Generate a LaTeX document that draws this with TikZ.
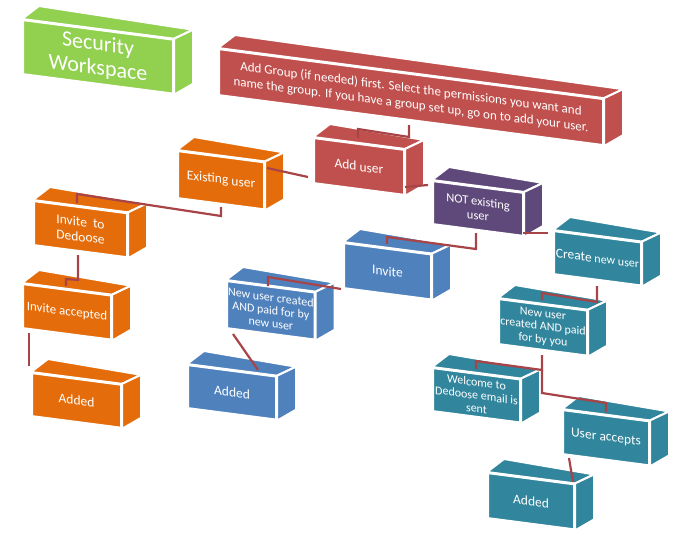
\documentclass[tikz,border=0pt]{standalone}
\usepackage{fontspec}
\setmainfont{Carlito}
\usetikzlibrary{calc}
\definecolor{cgreen}{HTML}{92D050}
\definecolor{cred}{HTML}{C0504D}
\definecolor{corange}{HTML}{E46C0A}
\definecolor{cpurple}{HTML}{5F497A}
\definecolor{cblue}{HTML}{4F81BD}
\definecolor{cteal}{HTML}{31859C}
\definecolor{connc}{HTML}{A84448}
\tikzset{
  face/.style={draw=white, line width=2pt, line join=miter},
  conn/.style={draw=connc, line width=2.2pt},
  boxtext/.style={text=white, align=center, inner sep=1pt},
}
\newcommand\cubebox[8]{%
  \begin{scope}[shift={(#2,-#3)}, yslant=-0.13]
    \node[face, fill=#6, boxtext, font=#7, minimum width=#4pt, minimum height=#5pt,
          anchor=north west, transform shape] (#1) at (0,0) {#8};
  \end{scope}
  \path[face, fill=#6] (#1.north west) -- (#1.north east) -- ++(19,9)
        -- ($(#1.north west)+(17,13)$) -- cycle;
  \path[face, fill=#6] (#1.north east) -- ++(19,9) -- ($(#1.south east)+(19,11)$)
        -- (#1.south east) -- cycle;
}
\newcommand\fa{\fontsize{13.5}{15}\selectfont}
\newcommand\fb{\fontsize{12}{13}\selectfont}
\begin{document}
\begin{tikzpicture}[x=1pt,y=1pt]
\useasboundingbox (0,0) rectangle (698,-535);
% boxes
\cubebox{sec}{22}{19}{150}{54}{cgreen}{\fontsize{22}{24}\selectfont}{Security\\Workspace}
\cubebox{grp}{218}{48}{384}{46}{cred}{\fontsize{13}{16}\selectfont}{Add Group (if needed) first. Select the permissions you want and\\name the group. If you have a group set up, go on to add your user.}
\cubebox{addu}{313}{137}{90}{45}{cred}{\fa}{Add user}
\cubebox{exist}{177}{150}{86}{47}{corange}{\fa}{Existing user}
\cubebox{notex}{432}{180}{90}{43}{cpurple}{\fontsize{12.5}{14}\selectfont}{NOT existing\\user}
\cubebox{invd}{33}{200}{93}{44}{corange}{\fa}{Invite\ \ to\\Dedoose}
\cubebox{inva}{22}{283}{88}{44}{corange}{\fontsize{13}{15}\selectfont}{Invite accepted}
\cubebox{addo}{31}{372}{89}{43}{corange}{\fa}{Added}
\cubebox{invite}{343}{242}{87}{45}{cblue}{\fa}{Invite}
\cubebox{create}{553}{230}{87}{43}{cteal}{\fb}{{\fontsize{13.5}{15}\selectfont Create} new user}
\cubebox{nucb}{226}{280}{86}{47}{cblue}{\fb}{New user created\\AND paid for by\\new user}
\cubebox{addb}{187}{364}{88}{43}{cblue}{\fa}{Added}
\cubebox{nucy}{498}{298}{88}{45}{cteal}{\fb}{New user\\created AND paid\\for by you}
\cubebox{welc}{432}{367}{87}{43}{cteal}{\fb}{Welcome to\\Dedoose email is\\sent}
\cubebox{uacc}{562}{409}{86}{44}{cteal}{\fa}{User accepts}
\cubebox{addt}{487}{472}{86}{45}{cteal}{\fa}{Added}
% connector end points
\coordinate (grp-o) at (409,-125);
\coordinate (addu-i) at (358,-138);
\coordinate (addu-l) at (308,-177);
\coordinate (exist-r) at (267,-168);
\coordinate (addu-r) at (405,-187);
\coordinate (notex-l) at (428,-185);
\coordinate (exist-o) at (221,-207);
\coordinate (invd-i) at (77,-203);
\coordinate (invd-o) at (78,-255);
\coordinate (inva-i) at (66,-286);
\coordinate (inva-o) at (29,-333);
\coordinate (addo-i) at (29,-366);
\coordinate (notex-o) at (476,-233);
\coordinate (invite-i) at (387,-244);
\coordinate (invite-o) at (341,-289);
\coordinate (nucb-i) at (268,-286);
\coordinate (nucb-o) at (233,-334);
\coordinate (addb-i) at (258,-370);
\coordinate (notex-r) at (523,-233);
\coordinate (create-l) at (548,-233);
\coordinate (create-o) at (597,-286);
\coordinate (nucy-i) at (542,-300);
\coordinate (nucy-o) at (542,-355);
\coordinate (welc-i) at (476,-369);
\coordinate (uacc-i) at (606,-412);
\coordinate (uacc-o) at (569,-458);
\coordinate (addt-i) at (573,-482);
% connectors
\draw[conn] (grp-o) -- (409,-137) -- (358,-129) -- (addu-i);
\draw[conn] (addu-l) -- (exist-r);
\draw[conn] (addu-r) -- (notex-l);
\draw[conn] (exist-o) -- (221,-216) -- (77,-194) -- (invd-i);
\draw[conn] (invd-o) -- (78,-280) -- (66,-279) -- (inva-i);
\draw[conn] (inva-o) -- (addo-i);
\draw[conn] (notex-o) -- (476,-249) -- (387,-237) -- (invite-i);
\draw[conn] (invite-o) -- (268,-277) -- (nucb-i);
\draw[conn] (nucb-o) -- (addb-i);
\draw[conn] (notex-r) -- (create-l);
\draw[conn] (create-o) -- (597,-302) -- (542,-293) -- (nucy-i);
\draw[conn] (nucy-o) -- (542,-370) -- (476,-361) -- (welc-i);
\draw[conn] (542,-370) -- (542,-393) -- (606,-403) -- (uacc-i);
\draw[conn] (uacc-o) -- (addt-i);
\end{tikzpicture}
\end{document}
